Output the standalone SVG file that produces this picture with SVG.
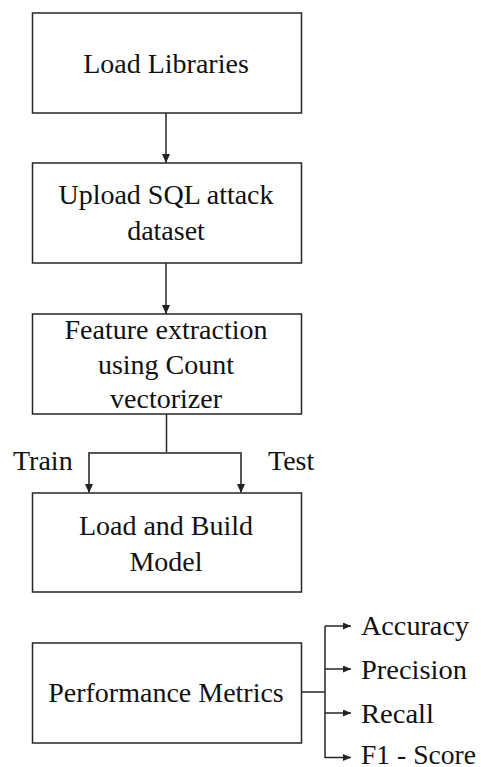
<svg xmlns="http://www.w3.org/2000/svg" width="481" height="767" viewBox="0 0 481 767">
<defs>
<marker id="ah" markerUnits="userSpaceOnUse" markerWidth="10" markerHeight="10" refX="9" refY="4" orient="auto">
<path d="M0,0 L9,4 L0,8 Z" fill="#222"/>
</marker>
<marker id="sh" markerUnits="userSpaceOnUse" markerWidth="10" markerHeight="10" refX="8" refY="3.5" orient="auto">
<path d="M0,0 L8,3.5 L0,7 Z" fill="#222"/>
</marker>
</defs>
<g id="n1"><rect x="32.5" y="13" width="269" height="100" fill="#fff" stroke="#262626" stroke-width="1.5"/><text x="166" y="73" text-anchor="middle" font-family="Times New Roman" font-size="28" fill="#111">Load Libraries</text></g>
<g id="n2"><rect x="32.5" y="163" width="269" height="100" fill="#fff" stroke="#262626" stroke-width="1.5"/><text x="166" y="204" text-anchor="middle" font-family="Times New Roman" font-size="28" fill="#111">Upload SQL attack</text><text x="166" y="240" text-anchor="middle" font-family="Times New Roman" font-size="28" fill="#111">dataset</text></g>
<g id="n3"><rect x="32.5" y="314" width="269" height="100" fill="#fff" stroke="#262626" stroke-width="1.5"/><text x="166" y="339" text-anchor="middle" font-family="Times New Roman" font-size="28" fill="#111">Feature extraction</text><text x="166" y="374" text-anchor="middle" font-family="Times New Roman" font-size="28" fill="#111">using Count</text><text x="166" y="408" text-anchor="middle" font-family="Times New Roman" font-size="28" fill="#111">vectorizer</text></g>
<g id="n4"><rect x="32.5" y="493" width="269" height="99" fill="#fff" stroke="#262626" stroke-width="1.5"/><text x="166" y="535" text-anchor="middle" font-family="Times New Roman" font-size="28" fill="#111">Load and Build</text><text x="166" y="571" text-anchor="middle" font-family="Times New Roman" font-size="28" fill="#111">Model</text></g>
<g id="n5"><rect x="32.5" y="643" width="269" height="100" fill="#fff" stroke="#262626" stroke-width="1.5"/><text x="166" y="702" text-anchor="middle" font-family="Times New Roman" font-size="28" fill="#111">Performance Metrics</text></g>
<g id="connectors" fill="none" stroke="#262626" stroke-width="1.5">
<line x1="166" y1="113" x2="166" y2="163" marker-end="url(#ah)"/>
<line x1="166" y1="263" x2="166" y2="314" marker-end="url(#ah)"/>
<line x1="166.5" y1="414" x2="166.5" y2="453"/>
<path d="M166,453 H89 V493" stroke="#555" stroke-width="2" marker-end="url(#ah)"/>
<path d="M166,453 H241 V493" stroke="#555" stroke-width="2" marker-end="url(#ah)"/>
<line x1="301.5" y1="692" x2="325" y2="692"/>
<path d="M325,626 V758"/>
<line x1="325" y1="626" x2="351" y2="626" marker-end="url(#sh)"/>
<line x1="325" y1="669" x2="351" y2="669" marker-end="url(#sh)"/>
<line x1="325" y1="713" x2="351" y2="713" marker-end="url(#sh)"/>
<path d="M325,757.5 H351" marker-end="url(#sh)"/>
</g>
<g id="labels" font-family="Times New Roman" font-size="28" fill="#111">
<text x="13" y="470">Train</text>
<text x="268" y="470">Test</text>
<text x="361" y="635" textLength="108" lengthAdjust="spacingAndGlyphs">Accuracy</text>
<text x="361" y="679" textLength="106" lengthAdjust="spacingAndGlyphs">Precision</text>
<text x="361" y="723" textLength="73" lengthAdjust="spacingAndGlyphs">Recall</text>
<text x="361" y="764" textLength="115" lengthAdjust="spacingAndGlyphs">F1 - Score</text>
</g>
</svg>
